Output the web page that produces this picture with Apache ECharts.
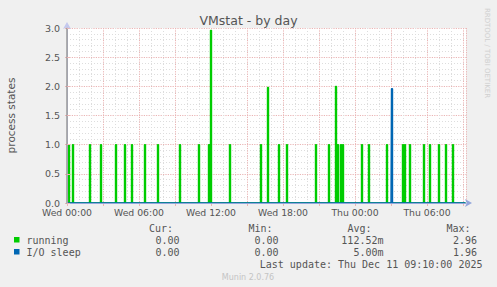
<!DOCTYPE html>
<html><head><meta charset="utf-8">
<script src="https://cdn.jsdelivr.net/npm/echarts@6/dist/echarts.min.js"></script>
<style>html,body{margin:0;padding:0;background:#f0f0f0}#c{width:497px;height:287px}</style>
</head><body><div id="c"></div><script>
// ---- data ----
const chartTitle = 'VMstat - by day';
const yAxisTitle = 'process states';
const dayNames = ['Wed', 'Thu'];
const sampleMinutes = 5;
const sampleCount = 400;
// spike times in minutes since Wed 00:00
const runningSpikeMinutes = [10, 30, 115, 170, 245, 290, 325, 390, 455, 565, 660, 710, 720, 815, 970, 1005, 1060, 1100, 1245, 1310, 1345, 1355, 1370, 1380, 1475, 1510, 1600, 1680, 1690, 1715, 1785, 1815, 1860, 1895, 1930];
const runningSpikeValues  = [1, 1, 1, 1, 1, 1, 1, 1, 1, 1, 1, 1, 2.96, 1, 1, 1.98, 1, 1, 1, 1, 2.0, 1, 1, 1, 1, 1, 1, 1, 1, 1, 1, 1, 1, 1, 1];
const ioSleepSpikeMinutes = [1625];
const ioSleepSpikeValues  = [1.96];
const seriesNames = ['running', 'I/O sleep'];
const seriesColors = ['#00cc00', '#0066b3'];
const statHeaders = ['Cur:', 'Min:', 'Avg:', 'Max:'];
const runningStats = ['0.00', '0.00', '112.52m', '2.96'];
const ioSleepStats = ['0.00', '0.00', '5.00m', '1.96'];
const lastUpdate = 'Last update: Thu Dec 11 09:10:00 2025';
const footerText = 'Munin 2.0.76';
const watermark = 'RRDTOOL / TOBI OETIKER';

// ---- build ----
function buildSeries(mins, vals) {
  const d = [];
  for (let k = 0; k < sampleCount; k++) d.push([k * sampleMinutes / 60, 0]);
  mins.forEach((m, i) => { d[Math.round(m / sampleMinutes)][1] = vals[i]; });
  return d;
}
const runningData = buildSeries(runningSpikeMinutes, runningSpikeValues);
const ioData = buildSeries(ioSleepSpikeMinutes, ioSleepSpikeValues);
const xMax = (sampleCount - 1) * sampleMinutes / 60;

function xLabel(v) {
  if (Math.abs(v % 6) > 1e-6) return '';
  const day = dayNames[Math.floor(v / 24)];
  const h = v % 24;
  return day + ' ' + String(h).padStart(2, '0') + ':00';
}

const TXT = '#555';
const MAJ = '#eab4b4';
const MIN = '#dddddd';
const mono = '"DejaVu Sans Mono", monospace';
const sans = '"DejaVu Sans", sans-serif';

function txt(text, x, y, align, opts) {
  opts = opts || {};
  return {
    type: 'text', x: x, y: y, rotation: opts.rotation || 0, silent: true,
    style: {
      text: text, fill: opts.fill || TXT,
      font: opts.font || ('10px ' + mono),
      align: align, textAlign: align,
      verticalAlign: 'middle', textVerticalAlign: 'middle'
    }
  };
}

const statRight = [179.5, 278.5, 383.5, 477];
const headRight = [173, 272.5, 371.5, 470.5];
const graphics = [];
statHeaders.forEach((h, i) => graphics.push(txt(h, headRight[i], 228, 'right')));
[[seriesNames[0], runningStats, 240], [seriesNames[1], ioSleepStats, 252]].forEach((row, r) => {
  graphics.push({ type: 'rect', silent: true, shape: { x: 14, y: row[2] - 3, width: 5.5, height: 5.5 }, style: { fill: seriesColors[r] } });
  graphics.push(txt(row[0], 26.5, row[2], 'left'));
  row[1].forEach((s, i) => graphics.push(txt(s, statRight[i], row[2], 'right')));
});
graphics.push(txt(lastUpdate, 482.5, 264, 'right'));
graphics.push(txt(footerText, 248, 277, 'center', { font: '8px ' + sans, fill: '#c4c4c4' }));
graphics.push(txt(watermark, 487, 53, 'center', { font: '7px ' + sans, fill: '#cfcfcf', rotation: -Math.PI / 2 }));

const chart = echarts.init(document.getElementById('c'), null, { renderer: 'svg', width: 497, height: 287 });
chart.setOption({
  animation: false,
  backgroundColor: '#f0f0f0',
  title: {
    text: chartTitle, left: 'center', top: 9,
    textStyle: { fontFamily: sans, fontSize: 12.5, fontWeight: 'normal', color: TXT }
  },
  grid: { left: 67, right: 31, top: 28, bottom: 84, show: true, backgroundColor: '#ffffff', borderWidth: 0, containLabel: false, outerBoundsMode: 'none' },
  xAxis: [{
    type: 'value', min: 0, max: xMax, interval: 3,
    axisLine: { show: false },
    axisTick: { show: true, length: 3, inside: false, lineStyle: { color: MAJ } },
    minorTick: { show: false, splitNumber: 3 },
    axisLabel: { formatter: xLabel, color: TXT, fontFamily: sans, fontSize: 9.3, margin: 5, showMaxLabel: false },
    splitLine: { show: true, lineStyle: { color: MAJ, type: [1.2, 1.2], width: 1 } },
    minorSplitLine: { show: true, lineStyle: { color: MIN, type: [1, 2], width: 1 } }
  }, {
    type: 'value', min: 0, max: xMax, position: 'bottom', z: 10,
    axisLine: { show: true, lineStyle: { color: '#94a6dc', width: 1 }, symbol: ['none', 'arrow'], symbolSize: [6, 7], symbolOffset: [0, 6] },
    axisTick: { show: false }, axisLabel: { show: false }, splitLine: { show: false }
  }],
  yAxis: [{
    type: 'value', min: 0, max: 3, interval: 0.5,
    name: yAxisTitle, nameLocation: 'middle', nameRotate: 90, nameGap: 51,
    nameTextStyle: { color: TXT, fontFamily: sans, fontSize: 10.5 },
    axisLine: { show: false },
    axisTick: { show: true, length: 2, lineStyle: { color: MAJ } },
    minorTick: { show: false, splitNumber: 5 },
    axisLabel: { formatter: v => v.toFixed(1), color: TXT, fontFamily: sans, fontSize: 9.5, margin: 7 },
    splitLine: { show: true, lineStyle: { color: MAJ, type: [1.2, 1.2], width: 1 } },
    minorSplitLine: { show: true, lineStyle: { color: MIN, type: [1, 2], width: 1 } }
  }, {
    type: 'value', min: 0, max: 3, position: 'left', z: 10,
    axisLine: { show: true, onZero: false, lineStyle: { color: '#c4c8ee', width: 1 }, symbol: ['none', 'arrow'], symbolSize: [6, 7], symbolOffset: [0, 6] },
    axisTick: { show: false }, axisLabel: { show: false }, splitLine: { show: false }
  }, {
    type: 'value', min: 0, max: 3, interval: 0.5, position: 'right', z: 10,
    axisLine: { show: true, lineStyle: { color: '#999999', width: 1.5 } },
    axisTick: { show: true, length: 3, lineStyle: { color: MAJ } },
    axisLabel: { show: false }, splitLine: { show: false }
  }],
  series: [{
    name: seriesNames[0], type: 'line', data: runningData, step: 'middle', symbol: 'none',
    lineStyle: { color: seriesColors[0], width: 1.4 },
    areaStyle: { color: seriesColors[0], opacity: 0.45 }
  }, {
    name: seriesNames[1], type: 'line', data: ioData, step: 'middle', symbol: 'none',
    lineStyle: { color: seriesColors[1], width: 1.4 },
    areaStyle: { color: seriesColors[1], opacity: 0.45 }
  }],
  graphic: graphics
});
</script></body></html>
